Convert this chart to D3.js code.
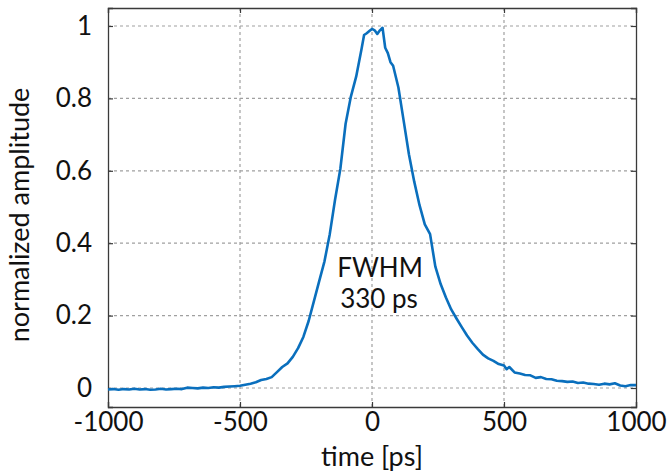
<!DOCTYPE html>
<html><head><meta charset="utf-8">
<script src="https://cdn.jsdelivr.net/npm/d3@7"></script>
<style>body{margin:0;background:#fff}svg{display:block}text{font-family:Lato,"Open Sans",sans-serif;fill:#111}</style>
</head><body><svg id="c" width="671" height="472"></svg>
<script>
const timePs = [-1000,-980,-960,-940,-920,-900,-880,-860,-840,-820,-800,-780,-760,-740,-720,-700,-680,-660,-640,-620,-600,-580,-560,-540,-520,-500,-480,-460,-440,-420,-400,-380,-360,-340,-320,-300,-280,-260,-240,-220,-200,-180,-160,-140,-120,-100,-80,-60,-40,-30,-20,-10,0,10,20,30,40,50,60,70,80,100,120,140,160,180,200,220,240,260,280,300,320,340,360,380,400,420,440,460,480,500,510,520,540,560,580,600,620,640,660,680,700,720,740,760,780,800,820,840,860,880,900,920,940,960,980,1000];
const amplitude = [-0.004,-0.003,-0.005,-0.003,-0.004,-0.002,-0.004,-0.003,-0.005,-0.004,-0.002,-0.004,-0.003,-0.002,-0.003,0.001,0.000,-0.001,0.001,0.000,0.002,0.001,0.003,0.004,0.005,0.006,0.009,0.012,0.016,0.022,0.025,0.030,0.044,0.058,0.068,0.086,0.110,0.141,0.185,0.240,0.295,0.350,0.425,0.520,0.605,0.730,0.805,0.860,0.935,0.975,0.980,0.986,0.992,0.988,0.978,0.988,0.995,0.940,0.925,0.900,0.890,0.830,0.738,0.645,0.570,0.505,0.452,0.425,0.335,0.287,0.250,0.217,0.192,0.168,0.145,0.125,0.108,0.092,0.082,0.075,0.066,0.062,0.052,0.058,0.043,0.040,0.036,0.035,0.028,0.030,0.025,0.024,0.020,0.019,0.017,0.018,0.014,0.015,0.012,0.011,0.009,0.012,0.010,0.013,0.007,0.005,0.008,0.008];
const xTicks = [-1000,-500,0,500,1000];
const yTicks = [0,0.2,0.4,0.6,0.8,1];
const xTickLabels = ["-1000","-500","0","500","1000"];
const yTickLabels = ["0","0.2","0.4","0.6","0.8","1"];
const annotation = ["FWHM","330 ps"];

const svg = d3.select("#c");
const L=108,R=636,T=8,B=407;
const x = d3.scaleLinear().domain([-1000,1000]).range([L,R]);
const y = d3.scaleLinear().domain([-0.0525,1.0497]).range([B,T]);

// grid
const g = svg.append("g");
g.selectAll(".vg").data(xTicks.slice(1,-1)).enter().append("line")
 .attr("x1",d=>x(d)).attr("x2",d=>x(d)).attr("y1",T).attr("y2",B)
 .attr("stroke","#a0a0a0").attr("stroke-width",1.2).attr("stroke-dasharray","3,3");
g.selectAll(".hg").data(yTicks).enter().append("line")
 .attr("x1",L).attr("x2",R).attr("y1",d=>y(d)).attr("y2",d=>y(d))
 .attr("stroke","#a0a0a0").attr("stroke-width",1.2).attr("stroke-dasharray","3,3");

// axes
const xa = svg.append("g").attr("transform",`translate(0,${B})`)
 .call(d3.axisBottom(x).tickValues(xTicks).tickSize(-5).tickPadding(6).tickFormat((d,i)=>xTickLabels[i]));
const xt = svg.append("g").attr("transform",`translate(0,${T})`)
 .call(d3.axisTop(x).tickValues(xTicks).tickSize(-5).tickFormat(""));
const ya = svg.append("g").attr("transform",`translate(${L},0)`)
 .call(d3.axisLeft(y).tickValues(yTicks).tickSize(-5).tickPadding(16).tickFormat((d,i)=>yTickLabels[i]));
const yr = svg.append("g").attr("transform",`translate(${R},0)`)
 .call(d3.axisRight(y).tickValues(yTicks).tickSize(-5).tickFormat(""));
[xa,xt,ya,yr].forEach(a=>{
  a.selectAll("path").attr("stroke","#3a3a3a").attr("stroke-width",1.3);
  a.selectAll("line").attr("stroke","#3a3a3a").attr("stroke-width",1.2);
  a.selectAll("text").style("font-family","Lato,'Open Sans',sans-serif").style("font-size","26px").attr("fill","#111");
});

// line
svg.append("path").datum(timePs.map((t,i)=>[t,amplitude[i]]))
 .attr("d",d3.line().x(d=>x(d[0])).y(d=>y(d[1])))
 .attr("fill","none").attr("stroke","#0a6fbd").attr("stroke-width",2.6).attr("stroke-linejoin","round");

// annotation
svg.append("text").attr("x",380).attr("y",277).attr("text-anchor","middle").style("font-size","26px").text(annotation[0]);
svg.append("text").attr("x",379).attr("y",308).attr("text-anchor","middle").style("font-size","26px").text(annotation[1]);

// axis titles
svg.append("text").attr("x",372).attr("y",466).attr("text-anchor","middle").style("font-size","27px").text("time [ps]");
svg.append("text").attr("transform","translate(29,215) rotate(-90)").attr("text-anchor","middle").style("font-size","27px").text("normalized amplitude");
</script></body></html>
